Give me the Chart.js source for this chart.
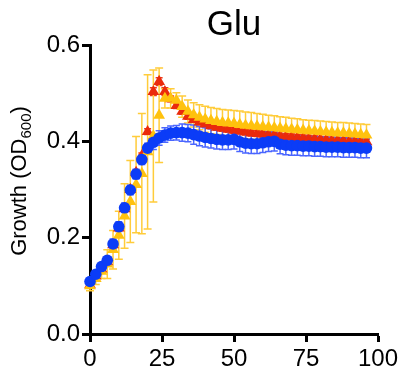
<!DOCTYPE html>
<html>
<head>
<meta charset="utf-8">
<script src="https://cdn.jsdelivr.net/npm/chart.js@4.4.1/dist/chart.umd.min.js"></script>
<style>
  html, body { margin: 0; padding: 0; background: #fff; }
  #wrap { width: 402px; height: 371px; }
</style>
</head>
<body>
<div id="wrap"><canvas id="growth-chart" width="402" height="371"></canvas></div>
<script>
// ---------------------- DATA -------------------------
const timeHours = [0,2,4,6,8,10,12,14,16,18,20,22,24,26,28,30,32,34,36,38,40,42,44,46,48,50,52,54,56,58,60,62,64,66,68,70,72,74,76,78,80,82,84,86,88,90,92,94,96];

const blueMean = [0.109,0.124,0.140,0.153,0.187,0.223,0.262,0.299,0.332,0.362,0.386,0.398,0.407,0.413,0.417,0.418,0.418,0.417,0.414,0.411,0.408,0.406,0.404,0.403,0.403,0.404,0.399,0.396,0.395,0.395,0.397,0.399,0.400,0.394,0.392,0.391,0.391,0.390,0.390,0.389,0.389,0.388,0.388,0.388,0.387,0.387,0.387,0.386,0.386];
const blueSd = [0.006,0.006,0.006,0.006,0.010,0.010,0.010,0.010,0.010,0.010,0.010,0.015,0.015,0.015,0.015,0.015,0.018,0.018,0.020,0.020,0.020,0.020,0.020,0.020,0.020,0.020,0.020,0.020,0.020,0.020,0.020,0.020,0.020,0.020,0.020,0.020,0.020,0.020,0.020,0.020,0.020,0.020,0.020,0.020,0.020,0.020,0.020,0.020,0.020];

const redMean = [0.102,0.120,0.135,0.150,0.185,0.220,0.260,0.300,0.335,0.370,0.420,0.503,0.524,0.503,0.488,0.474,0.462,0.452,0.445,0.440,0.436,0.432,0.429,0.427,0.425,0.423,0.421,0.419,0.417,0.416,0.415,0.414,0.413,0.411,0.410,0.409,0.408,0.407,0.406,0.405,0.404,0.403,0.402,0.402,0.401,0.400,0.400,0.399,0.399];
const redSd = [0.006,0.006,0.006,0.006,0.006,0.006,0.006,0.006,0.006,0.006,0.006,0.008,0.008,0.008,0.006,0.006,0.006,0.006,0.006,0.006,0.006,0.006,0.006,0.006,0.006,0.006,0.006,0.006,0.006,0.006,0.006,0.006,0.006,0.006,0.006,0.006,0.006,0.006,0.006,0.006,0.006,0.006,0.006,0.006,0.006,0.006,0.006,0.006,0.006];

const yellowMean = [0.100,0.115,0.130,0.145,0.175,0.205,0.245,0.275,0.310,0.333,0.378,0.411,0.454,0.489,0.489,0.485,0.472,0.462,0.455,0.450,0.446,0.443,0.441,0.439,0.438,0.437,0.435,0.433,0.432,0.431,0.430,0.429,0.428,0.427,0.426,0.425,0.424,0.423,0.422,0.421,0.420,0.419,0.418,0.417,0.417,0.416,0.415,0.414,0.413];
const yellowSd = [0.010,0.012,0.015,0.030,0.040,0.050,0.067,0.085,0.100,0.125,0.160,0.137,0.098,0.020,0.020,0.016,0.022,0.024,0.025,0.026,0.027,0.027,0.027,0.027,0.027,0.027,0.028,0.028,0.028,0.027,0.026,0.025,0.025,0.024,0.024,0.023,0.023,0.022,0.022,0.022,0.022,0.022,0.022,0.022,0.022,0.022,0.022,0.022,0.022];

const xTicks = [0, 25, 50, 75, 100];
const yTicks = [0, 0.2, 0.4, 0.6];

const FONT = '"Liberation Sans", Arial, sans-serif';

// ---------------------- HELPERS -------------------------
function toPoints(means) {
      return timeHours.map((t, i) => ({ x: t, y: means[i] }));
}

// error bars of all datasets, drawn under the markers
const errorBarPlugin = {
      id: 'errorBars',
      beforeDatasetsDraw(chart) {
            const ctx = chart.ctx;
            const yScale = chart.scales.y;
            ctx.save();
            ctx.lineWidth = 1.5;
            for (let d = chart.data.datasets.length - 1; d >= 0; d--) {
                  const ds = chart.data.datasets[d];
                  const meta = chart.getDatasetMeta(d);
                  ctx.strokeStyle = ds.errorColor;
                  const half = ds.capWidth / 2;
                  meta.data.forEach((pt, i) => {
                        const top = yScale.getPixelForValue(ds.data[i].y + ds.sd[i]);
                        const bottom = yScale.getPixelForValue(ds.data[i].y - ds.sd[i]);
                        ctx.beginPath();
                        ctx.moveTo(pt.x, top);
                        ctx.lineTo(pt.x, bottom);
                        ctx.moveTo(pt.x - half, top);
                        ctx.lineTo(pt.x + half, top);
                        ctx.moveTo(pt.x - half, bottom);
                        ctx.lineTo(pt.x + half, bottom);
                        ctx.stroke();
                  });
            }
            ctx.restore();
      }
};

// title over the plot area and y label with subscript
const labelPlugin = {
      id: 'labels',
      afterDraw(chart) {
            const ctx = chart.ctx;
            const area = chart.chartArea;
            ctx.save();
            ctx.fillStyle = '#000';
            ctx.font = `35px ${FONT}`;
            ctx.textAlign = 'center';
            ctx.textBaseline = 'alphabetic';
            ctx.fillText('Glu', (area.left + area.right) / 2, 35);

            const mainFont = `22px ${FONT}`;
            const subFont = `15px ${FONT}`;
            ctx.font = mainFont;
            const w1 = ctx.measureText('Growth (OD').width;
            const w3 = ctx.measureText(')').width;
            ctx.font = subFont;
            const w2 = ctx.measureText('600').width;
            const total = w1 + w2 + w3;

            ctx.translate(26, 181);
            ctx.rotate(-Math.PI / 2);
            ctx.textAlign = 'left';
            let x = -total / 2;
            ctx.font = mainFont;
            ctx.fillText('Growth (OD', x, 0);
            x += w1;
            ctx.font = subFont;
            ctx.fillText('600', x, 5);
            x += w2;
            ctx.font = mainFont;
            ctx.fillText(')', x, 0);
            ctx.restore();
      }
};

// ---------------------- CHART -------------------------
const ctx = document.getElementById('growth-chart').getContext('2d');

new Chart(ctx, {
      type: 'scatter',
      data: {
            datasets: [
                  {
                        label: 'blue',
                        data: toPoints(blueMean),
                        sd: blueSd,
                        errorColor: '#4a66ff',
                        capWidth: 7,
                        pointStyle: 'circle',
                        pointRadius: 5.8,
                        backgroundColor: '#0b3cf7',
                        borderColor: '#0b3cf7',
                        borderWidth: 0,
                        clip: false
                  },
                  {
                        label: 'yellow',
                        data: toPoints(yellowMean),
                        sd: yellowSd,
                        errorColor: '#ffcc3a',
                        capWidth: 8,
                        pointStyle: 'triangle',
                        pointRadius: 6.8,
                        backgroundColor: '#ffc20e',
                        borderColor: '#ffc20e',
                        borderWidth: 0,
                        clip: false
                  },
                  {
                        label: 'red',
                        data: toPoints(redMean),
                        sd: redSd,
                        errorColor: '#ee3a1a',
                        capWidth: 7,
                        pointStyle: 'triangle',
                        pointRadius: 6.8,
                        backgroundColor: '#ea2a0c',
                        borderColor: '#ea2a0c',
                        borderWidth: 0,
                        clip: false
                  }
            ]
      },
      options: {
            responsive: false,
            animation: false,
            layout: { padding: { left: 0, right: 24, top: 45, bottom: 0 } },
            plugins: {
                  legend: { display: false },
                  tooltip: { enabled: false },
                  title: { display: false }
            },
            scales: {
                  x: {
                        type: 'linear',
                        min: 0,
                        max: 100,
                        afterFit: (scale) => { scale.height = 37; },
                        afterBuildTicks: (scale) => { scale.ticks = xTicks.map(v => ({ value: v })); },
                        ticks: { color: '#000', font: { family: FONT, size: 24 }, padding: 3, maxRotation: 0 },
                        grid: { drawOnChartArea: false, tickLength: 8, tickWidth: 3, tickColor: '#000' },
                        border: { color: '#000', width: 3 }
                  },
                  y: {
                        min: 0,
                        max: 0.6,
                        afterFit: (scale) => { scale.width = 90; },
                        afterBuildTicks: (scale) => { scale.ticks = yTicks.map(v => ({ value: v })); },
                        ticks: {
                              color: '#000',
                              font: { family: FONT, size: 24 },
                              padding: 2,
                              callback: (v) => v.toFixed(1)
                        },
                        grid: { drawOnChartArea: false, tickLength: 8, tickWidth: 3, tickColor: '#000' },
                        border: { color: '#000', width: 3 }
                  }
            }
      },
      plugins: [errorBarPlugin, labelPlugin]
});
</script>
</body>
</html>
